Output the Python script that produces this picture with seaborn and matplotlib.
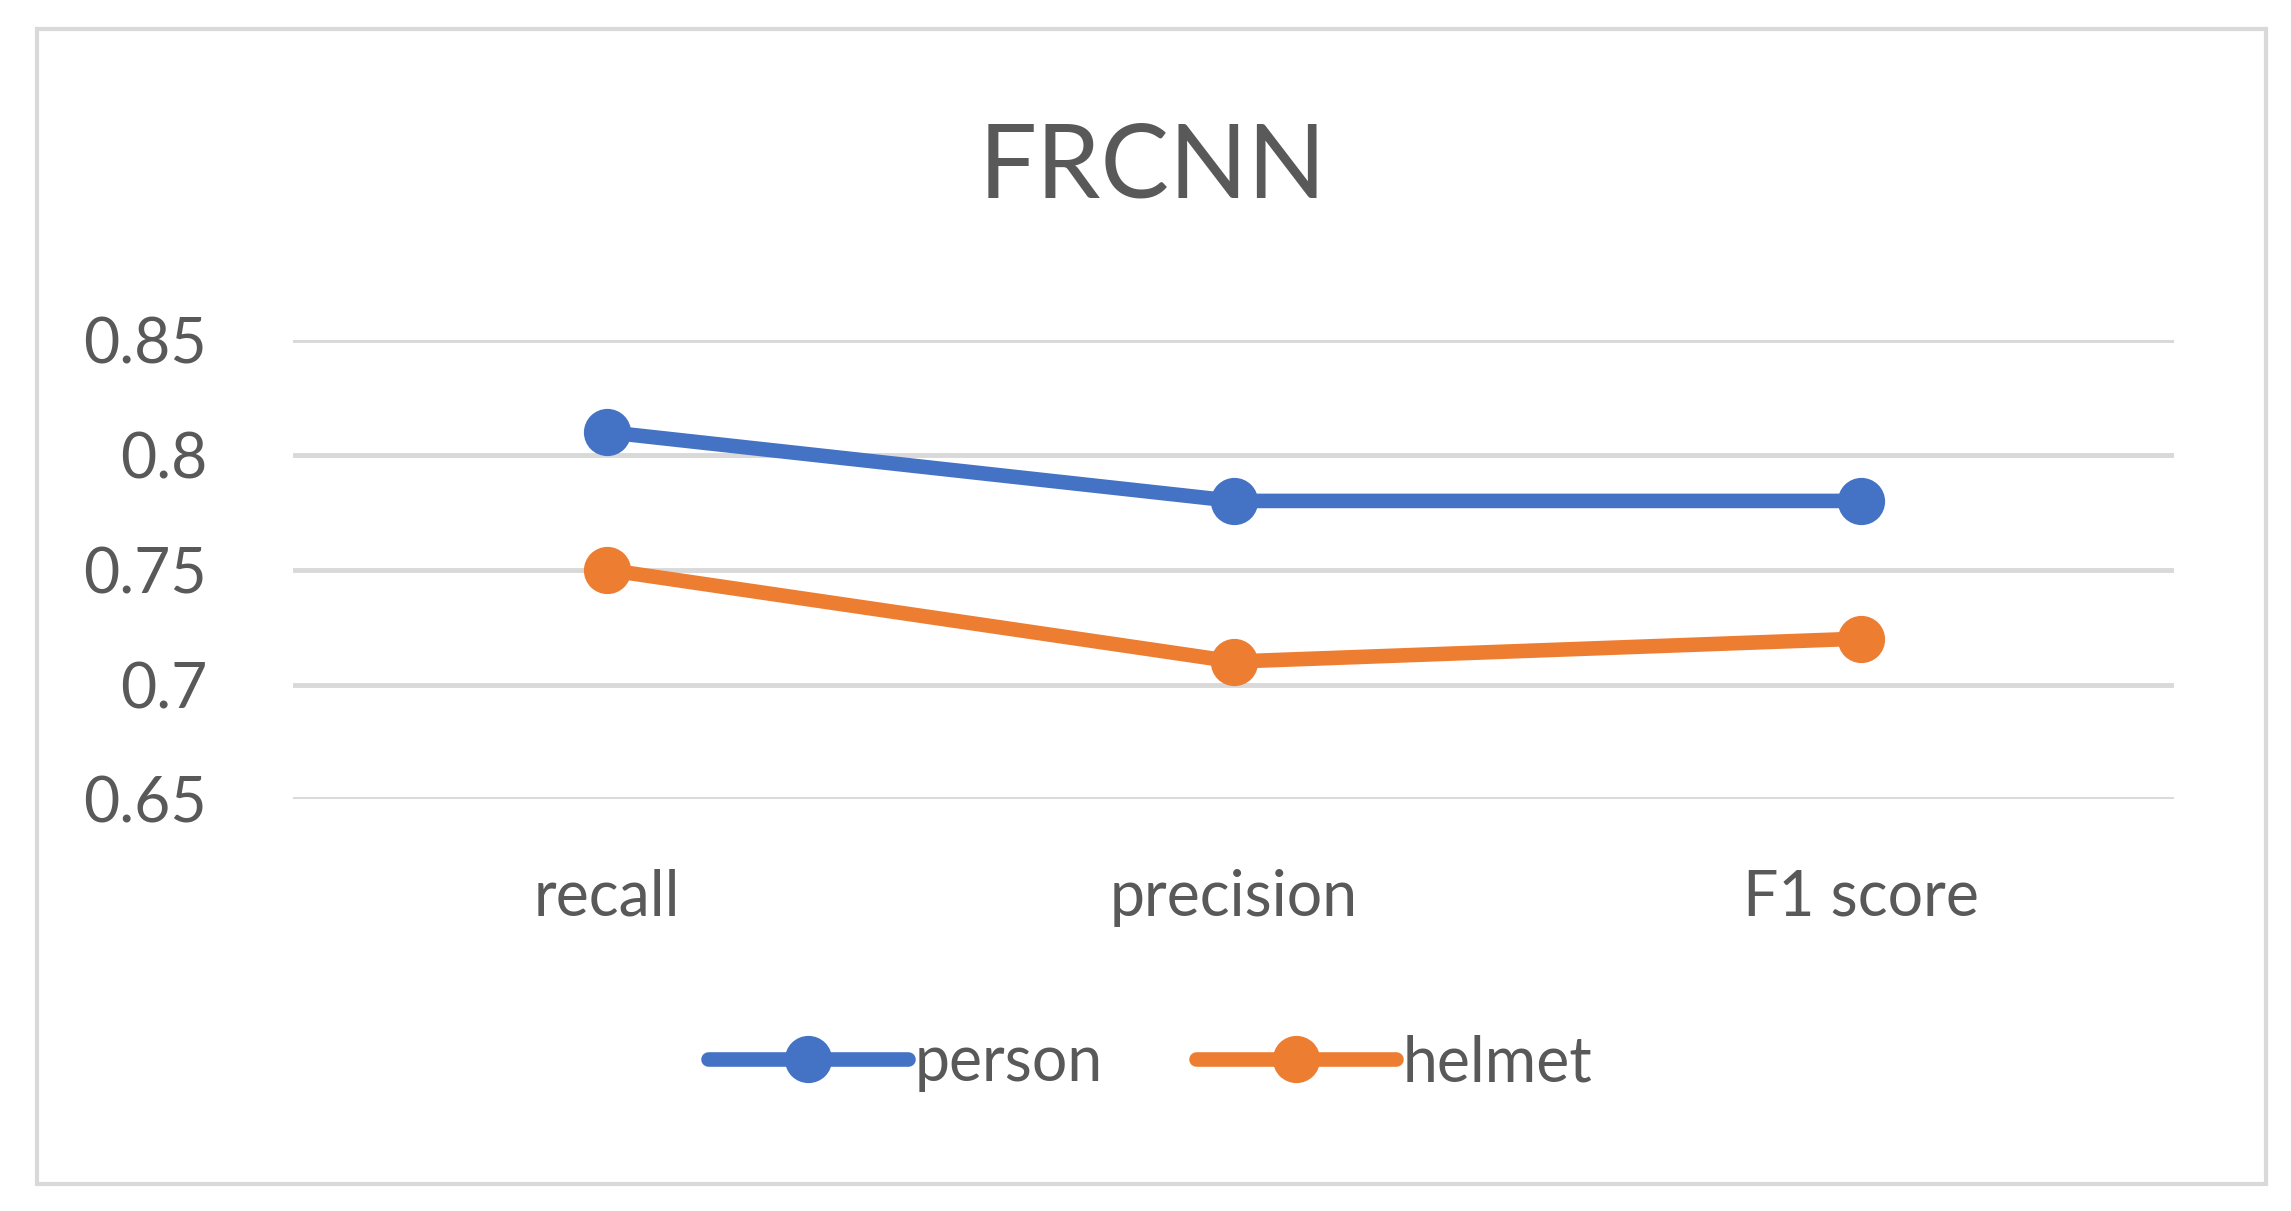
import matplotlib
matplotlib.use("Agg")
import matplotlib.pyplot as plt
import seaborn as sns
import pandas as pd
from matplotlib.patches import Rectangle

metrics = ["recall", "precision", "F1 score"]
person = [0.81, 0.78, 0.78]
helmet = [0.75, 0.71, 0.72]
yticks = [0.65, 0.7, 0.75, 0.8, 0.85]
ytick_labels = ["0.65", "0.7", "0.75", "0.8", "0.85"]

df = pd.DataFrame({
    "metric": metrics * 2,
    "value": person + helmet,
    "series": ["person"] * 3 + ["helmet"] * 3,
})

sns.set_style("white")
plt.rcParams["font.family"] = ["Lato", "DejaVu Sans"]
txt = "#595959"

fig = plt.figure(figsize=(22.91, 12.11), dpi=100)
ax = fig.add_axes([0.128, 0.34, 0.821, 0.379])

sns.lineplot(data=df, x="metric", y="value", hue="series",
             palette={"person": "#4472C4", "helmet": "#ED7D31"},
             marker="o", markersize=34, markeredgewidth=0, linewidth=10.5,
             sort=False, ax=ax)

ax.set_xlim(-0.5, 2.5)
ax.set_ylim(0.65, 0.85)
ax.set_yticks(yticks)
ax.set_yticklabels(ytick_labels)
ax.yaxis.grid(True, color="#D9D9D9", linewidth=3.5)
ax.set_axisbelow(True)
for s in ax.spines.values():
    s.set_visible(False)
ax.tick_params(axis="both", length=0, labelsize=45, labelcolor=txt)
ax.tick_params(axis="x", pad=50)
ax.tick_params(axis="y", pad=62)
ax.set_xlabel("")
ax.set_ylabel("")

fig.text(0.503, 0.861, "FRCNN", ha="center", va="center", fontsize=74, color=txt)

handles, labels = ax.get_legend_handles_labels()
ax.legend_.remove()
fig.legend(handles, labels, loc="center", bbox_to_anchor=(0.502, 0.122), ncol=2,
           frameon=False, fontsize=45, labelcolor=txt, handlelength=3.2,
           columnspacing=1.5, handletextpad=0.1)

fig.patches.append(Rectangle((0.016, 0.022), 0.973, 0.954, transform=fig.transFigure,
                             fill=False, edgecolor="#D9D9D9", linewidth=3))

fig.savefig("out.png", dpi=100)
